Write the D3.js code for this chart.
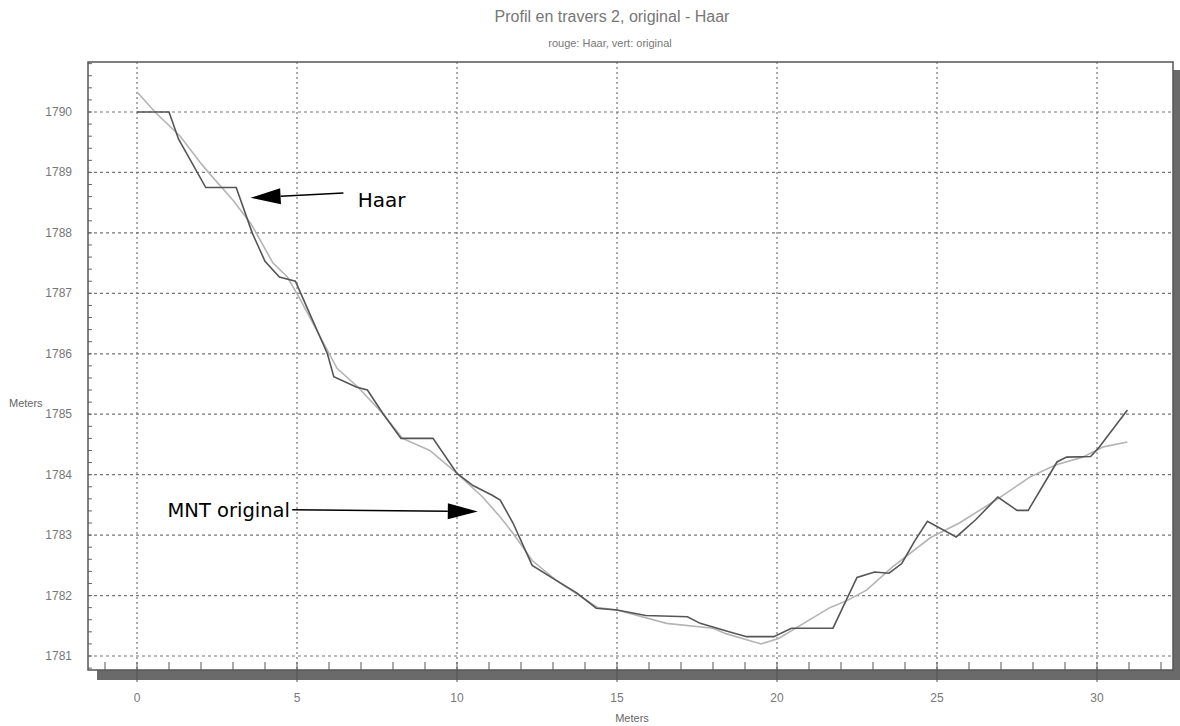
<!DOCTYPE html>
<html lang="fr">
<head>
    <meta charset="UTF-8">
    <title>Profil en travers 2</title>
    <style>
        body { margin: 0; background: #fff; }
        text { font-family: "Liberation Sans", Arial, sans-serif; }
    </style>
</head>
<body>
<script src="https://d3js.org/d3.v7.min.js"></script>
<script>
    // profil Haar (trait fonce)
    let haarX = [0, 1, 1.3, 2.15, 3.1, 3.6, 4.0, 4.45, 4.95, 5.3, 5.95, 6.15, 6.85, 7.2, 7.7, 8.25, 9.25, 10.0, 10.5,
        11.1, 11.35, 11.75, 12.35, 13.1, 13.75, 14.35, 15.0, 15.9, 17.2, 17.6, 18.5, 19.05, 19.9, 20.45, 21.4, 21.75,
        22.5, 23.05, 23.5, 23.9, 24.3, 24.7, 25.6, 26.2, 26.9, 27.5, 27.85, 28.75, 29.05, 29.8, 30.05, 30.95];
    let haarY = [1790, 1790, 1789.55, 1788.75, 1788.75, 1788.0, 1787.53, 1787.27, 1787.2, 1786.78, 1786.0, 1785.62,
        1785.45, 1785.4, 1785.0, 1784.6, 1784.6, 1784.02, 1783.82, 1783.66, 1783.58, 1783.2, 1782.5, 1782.25, 1782.04,
        1781.79, 1781.76, 1781.67, 1781.65, 1781.54, 1781.4, 1781.32, 1781.32, 1781.46, 1781.46, 1781.46, 1782.3,
        1782.39, 1782.37, 1782.53, 1782.9, 1783.23, 1782.97, 1783.25, 1783.63, 1783.41, 1783.41, 1784.21, 1784.29,
        1784.3, 1784.44, 1785.07];

    // MNT original (trait clair)
    let origX = [0, 0.6, 1.35, 2.0, 2.3, 3.0, 3.55, 3.85, 4.25, 4.7, 5.1, 6.25, 6.9, 7.7, 8.3, 9.15, 10.0, 10.8, 11.35,
        11.75, 12.35, 13.1, 14.4, 15.0, 16.55, 18.0, 18.4, 19.5, 20.05, 21.65, 22.2, 22.8, 23.6, 24.8, 25.7, 26.9, 27.9,
        28.7, 29.55, 30.2, 30.95];
    let origY = [1790.33, 1789.98, 1789.6, 1789.15, 1788.96, 1788.54, 1788.16, 1787.88, 1787.5, 1787.27, 1786.9,
        1785.76, 1785.45, 1785.0, 1784.6, 1784.4, 1784.02, 1783.63, 1783.3, 1783.03, 1782.58, 1782.25, 1781.8,
        1781.76, 1781.54, 1781.46, 1781.37, 1781.2, 1781.29, 1781.8, 1781.92, 1782.09, 1782.47, 1782.96, 1783.2,
        1783.6, 1783.96, 1784.16, 1784.29, 1784.46, 1784.54];

    let xTicks = [0, 5, 10, 15, 20, 25, 30];
    let yTicks = [1781, 1782, 1783, 1784, 1785, 1786, 1787, 1788, 1789, 1790];

    let w = 1180, h = 726;
    let frame = {left: 88, top: 62, right: 1173, bottom: 670};

    let x = d3.scaleLinear().domain([0, 30]).range([137, 1097]);
    let y = d3.scaleLinear().domain([1781, 1790]).range([656, 112]);

    let svg = d3.select("body")
        .append("svg")
        .attr("width", w)
        .attr("height", h);

    // titre
    svg.append("text")
        .attr("x", 612).attr("y", 22)
        .attr("text-anchor", "middle")
        .style("font-size", "16px")
        .attr("fill", "#777")
        .text("Profil en travers 2, original - Haar");
    svg.append("text")
        .attr("x", 610).attr("y", 47)
        .attr("text-anchor", "middle")
        .style("font-size", "11px")
        .attr("fill", "#777")
        .text("rouge: Haar, vert: original");

    // ombre du cadre
    svg.append("rect")
        .attr("x", frame.right).attr("y", 70)
        .attr("width", 7).attr("height", 680 - 70)
        .attr("fill", "#6a6a6a");
    svg.append("rect")
        .attr("x", 97).attr("y", frame.bottom)
        .attr("width", 1180 - 97).attr("height", 10)
        .attr("fill", "#6a6a6a");

    // grille
    svg.append("g")
        .selectAll("line")
        .data(yTicks)
        .enter()
        .append("line")
        .attr("x1", frame.left).attr("x2", frame.right)
        .attr("y1", d => y(d)).attr("y2", d => y(d))
        .attr("stroke", "#777")
        .attr("stroke-width", 1.2)
        .attr("stroke-dasharray", "3,3");
    svg.append("g")
        .selectAll("line")
        .data(xTicks)
        .enter()
        .append("line")
        .attr("x1", d => x(d)).attr("x2", d => x(d))
        .attr("y1", frame.top).attr("y2", frame.bottom)
        .attr("stroke", "#777")
        .attr("stroke-width", 1.2)
        .attr("stroke-dasharray", "2,3");

    // petites graduations
    let yMinor = d3.range(1780.8, 1790.81, 0.2);
    svg.append("g")
        .selectAll("line")
        .data(yMinor)
        .enter()
        .append("line")
        .attr("x1", frame.left).attr("x2", frame.left + 4)
        .attr("y1", d => y(d)).attr("y2", d => y(d))
        .attr("stroke", "#666");
    let xMinor = d3.range(-1, 33, 1);
    svg.append("g")
        .selectAll("line")
        .data(xMinor)
        .enter()
        .append("line")
        .attr("x1", d => x(d)).attr("x2", d => x(d))
        .attr("y1", 662).attr("y2", d => d % 5 === 0 ? 682 : frame.bottom)
        .attr("stroke", "#555");

    // cadre
    svg.append("rect")
        .attr("x", frame.left).attr("y", frame.top)
        .attr("width", frame.right - frame.left).attr("height", frame.bottom - frame.top)
        .attr("fill", "none")
        .attr("stroke", "#555")
        .attr("stroke-width", 1.5);

    // libelles des axes
    svg.append("g")
        .selectAll("text")
        .data(yTicks)
        .enter()
        .append("text")
        .attr("x", 72).attr("y", d => y(d) + 4)
        .attr("text-anchor", "end")
        .style("font-size", "12px")
        .attr("fill", "#777")
        .text(d => d);
    svg.append("g")
        .selectAll("text")
        .data(xTicks)
        .enter()
        .append("text")
        .attr("x", d => x(d)).attr("y", 702)
        .attr("text-anchor", "middle")
        .style("font-size", "12px")
        .attr("fill", "#777")
        .text(d => d);
    svg.append("text")
        .attr("x", 9).attr("y", 407)
        .style("font-size", "11px")
        .attr("fill", "#666")
        .text("Meters");
    svg.append("text")
        .attr("x", 632).attr("y", 722)
        .attr("text-anchor", "middle")
        .style("font-size", "11px")
        .attr("fill", "#666")
        .text("Meters");

    // courbes
    let line = d3.line()
        .x(d => x(d[0]))
        .y(d => y(d[1]));

    svg.append("path")
        .datum(d3.zip(origX, origY))
        .attr("d", line)
        .attr("fill", "none")
        .attr("stroke", "#b4b4b4")
        .attr("stroke-width", 1.6);
    svg.append("path")
        .datum(d3.zip(haarX, haarY))
        .attr("d", line)
        .attr("fill", "none")
        .attr("stroke", "#555")
        .attr("stroke-width", 1.6);

    // annotations
    function arrow(x1, y1, x2, y2) {
        let dx = x2 - x1, dy = y2 - y1;
        let len = Math.sqrt(dx * dx + dy * dy);
        let ux = dx / len, uy = dy / len;
        let bx = x2 - ux * 30, by = y2 - uy * 30;
        svg.append("line")
            .attr("x1", x1).attr("y1", y1)
            .attr("x2", bx).attr("y2", by)
            .attr("stroke", "#000")
            .attr("stroke-width", 1.5);
        svg.append("path")
            .attr("d", "M" + x2 + "," + y2 +
                "L" + (bx - uy * 8) + "," + (by + ux * 8) +
                "L" + (bx + uy * 8) + "," + (by - ux * 8) + "Z")
            .attr("fill", "#000");
    }

    arrow(x(6.45), y(1788.66), x(3.55), y(1788.58));
    svg.append("text")
        .attr("x", x(6.9)).attr("y", y(1788.55) + 7)
        .style("font-family", "'DejaVu Sans', Verdana, sans-serif")
        .style("font-size", "20px")
        .attr("fill", "#000")
        .text("Haar");

    arrow(x(4.85), y(1783.42), x(10.65), y(1783.39));
    svg.append("text")
        .attr("x", x(4.78)).attr("y", y(1783.42) + 7)
        .attr("text-anchor", "end")
        .style("font-family", "'DejaVu Sans', Verdana, sans-serif")
        .style("font-size", "19.5px")
        .attr("fill", "#000")
        .text("MNT original");
</script>
</body>
</html>
